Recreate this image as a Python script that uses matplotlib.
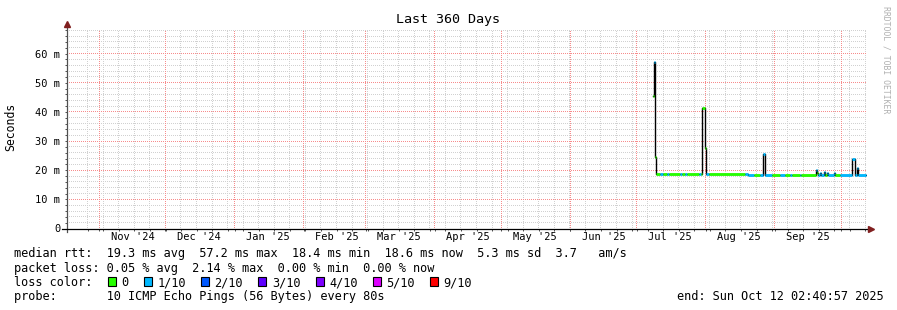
import matplotlib
matplotlib.use('Agg')
import numpy as np
import matplotlib.pyplot as plt
import matplotlib.dates as mdates
from matplotlib.patches import Rectangle

# --- data (SmokePing, last 360 days) ---
sample_times = [
    '2025-07-08 05:00', '2025-07-08 15:30', '2025-07-09 02:30', '2025-07-09 13:00',
    '2025-07-11 08:30', '2025-07-12 17:00', '2025-07-14 12:00', '2025-07-15 09:30',
    '2025-07-20 08:30', '2025-07-21 06:00', '2025-07-22 14:30', '2025-07-23 12:00',
    '2025-07-28 21:30', '2025-07-29 19:00', '2025-07-30 06:00', '2025-07-31 14:30',
    '2025-08-01 01:00', '2025-08-02 09:30', '2025-08-18 14:30', '2025-08-19 23:00',
    '2025-08-22 15:30', '2025-08-25 08:30', '2025-08-26 17:00', '2025-08-27 14:30',
    '2025-08-30 18:00', '2025-09-03 08:30', '2025-09-05 14:30', '2025-09-07 20:30',
    '2025-09-08 18:00', '2025-09-12 06:00', '2025-09-12 17:00', '2025-09-19 11:00',
    '2025-09-19 21:30', '2025-09-20 08:30', '2025-09-21 06:00', '2025-09-21 17:00',
    '2025-09-23 01:00', '2025-09-23 12:00', '2025-09-24 09:30', '2025-09-24 20:30',
    '2025-09-27 13:00', '2025-09-28 00:00', '2025-09-30 06:00', '2025-10-05 15:30',
    '2025-10-07 00:00', '2025-10-07 21:30', '2025-10-08 08:30',
]
median_ms = [
    45.3, 57.2, 24.6, 18.6,
    18.6, 18.6, 18.6, 18.6,
    18.6, 18.6, 18.6, 18.6,
    18.6, 18.6, 41.5, 27.7,
    18.6, 18.6, 18.6, 18.3,
    18.5, 18.5, 25.5, 18.4,
    18.3, 18.4, 18.5, 18.5,
    18.5, 18.5, 18.5, 19.9,
    19.2, 18.3, 19.0, 18.3,
    19.5, 18.3, 19.0, 18.3,
    19.0, 18.5, 18.5, 23.8,
    18.4, 20.8, 18.5,
]
loss_count = [
    0, 1, 0, 0,
    1, 0, 1, 0,
    1, 0, 1, 0,
    1, 0, 0, 0,
    1, 0, 1, 1,
    0, 1, 1, 1,
    0, 1, 0, 1,
    0, 1, 0, 1,
    0, 1, 1, 1,
    1, 0, 1, 1,
    1, 0, 1, 1,
    1, 1, 1,
]
data_end = '2025-10-12 00:00'

loss_labels = ['0', '1/10', '2/10', '3/10', '4/10', '5/10', '9/10']
loss_colors = ['#26ff00', '#00b8ff', '#0059ff', '#5e00ff', '#7e00ff', '#dd00ff', '#ff0000']

month_labels = ["Nov '24", "Dec '24", "Jan '25", "Feb '25", "Mar '25", "Apr '25",
                "May '25", "Jun '25", "Jul '25", "Aug '25", "Sep '25"]

legend_lines = [
    'median rtt:  19.3 ms avg  57.2 ms max  18.4 ms min  18.6 ms now  5.3 ms sd  3.7   am/s',
    'packet loss: 0.05 % avg  2.14 % max  0.00 % min  0.00 % now',
]
probe_line = 'probe:       10 ICMP Echo Pings (56 Bytes) every 80s'
end_line = 'end: Sun Oct 12 02:40:57 2025'

# --- layout (pixels of a 897x310 canvas) ---
W, H = 897, 310
plt.rcParams['font.family'] = 'DejaVu Sans Mono'

def fx(x):
    return x / W

def fy(y):
    return 1 - y / H

fig = plt.figure(figsize=(W / 100, H / 100), dpi=100)
ax = fig.add_axes([fx(66.5), fy(228.5), 800 / W, 200 / H])
ax.patch.set_visible(False)

t_start = mdates.datestr2num('2024-10-17 08:00')
t_stop = mdates.datestr2num('2025-10-12 08:00')
ax.set_xlim(t_start, t_stop)
ax.set_ylim(0, 68.6)

# grid: rrdtool style 1px dotted lines, put straight onto the pixel grid
minor_rgb = (0.82, 0.82, 0.82)
major_rgb = (0.97, 0.55, 0.55)
grid_img = np.zeros((H, W, 4))
x_lo, y_lo, x_hi, y_hi = ax.bbox.extents
col_lo, col_hi = int(np.ceil(x_lo)), int(np.floor(x_hi))
row_lo, row_hi = int(np.ceil(H - y_hi)), int(np.floor(H - y_lo))

def hgrid(yval, rgb):
    r = int(np.floor(H - ax.transData.transform((t_start, yval))[1]))
    for c in range(col_lo, col_hi, 2):
        grid_img[r, c] = rgb + (1.0,)

def vgrid(xval, rgb):
    c = int(np.floor(ax.transData.transform((xval, 0))[0]))
    for r in range(row_hi - 1, row_lo, -2):
        grid_img[r, c] = rgb + (1.0,)

weeks = []
w = mdates.datestr2num('2024-10-26 20:00')
while w < t_stop:
    weeks.append(w)
    w += 7
months = [mdates.datestr2num('%d-%02d-01' % (2024 + (m - 1) // 12, (m - 1) % 12 + 1))
          for m in range(11, 11 + 12)]
months = [m for m in months if t_start < m < t_stop]

for v in range(2, 69, 2):
    if v % 10:
        hgrid(v, minor_rgb)
for w in weeks:
    vgrid(w, minor_rgb)
for v in range(10, 69, 10):
    hgrid(v, major_rgb)
for m in months:
    vgrid(m, major_rgb)
fig.figimage(grid_img, xo=0, yo=0, origin='upper', zorder=-1)

# median rtt line, coloured by loss
t = [mdates.datestr2num(s) for s in sample_times]
edges = t + [mdates.datestr2num(data_end)]
ax.plot(edges, median_ms + [median_ms[-1]], drawstyle='steps-post',
        color='#000000', lw=1.0, zorder=2)
ax.hlines(median_ms, edges[:-1], edges[1:],
          colors=[loss_colors[c] for c in loss_count], lw=2.0, zorder=3,
          capstyle='butt')

# ticks and labels
ax.set_yticks(range(0, 61, 10))
ax.set_yticklabels(['0'] + ['%d m' % v for v in range(10, 61, 10)])
ax.set_yticks([v for v in range(2, 69, 2) if v % 10], minor=True)
mids = [mdates.datestr2num('%d-%02d-16' % (2024 + (m - 1) // 12, (m - 1) % 12 + 1))
        for m in range(11, 11 + 11)]
ax.set_xticks(mids)
ax.set_xticklabels(month_labels)
ax.set_xticks(weeks + months, minor=True)
ax.tick_params(axis='x', which='major', length=0, pad=2.5, labelsize=7.5)
ax.tick_params(axis='x', which='minor', length=1.5, color='#555555', width=0.72)
ax.tick_params(axis='y', which='both', length=1.5, color='#555555', width=0.72,
               pad=3.0, labelsize=7.5)

for s in ax.spines.values():
    s.set_visible(False)
ax.plot([0, 0], [-3 / 200, 1.02], transform=ax.transAxes, color='#505050',
        lw=0.9, clip_on=False, zorder=4)
ax.plot([-5 / 800, 1.004], [0, 0], transform=ax.transAxes, color='#000000',
        lw=0.9, clip_on=False, zorder=4)
ax.plot([0], [1.022], marker='^', ms=4.5, color='#801f1f', transform=ax.transAxes,
        clip_on=False, zorder=5)
ax.plot([1.0055], [0], marker='>', ms=4.5, color='#801f1f', transform=ax.transAxes,
        clip_on=False, zorder=5)

# title, unit label, watermark
fig.text(fx(448), fy(23.5), 'Last 360 Days', ha='center', va='baseline', fontsize=9.6)
fig.text(fx(11), fy(127), 'Seconds', rotation=90, ha='center', va='center', fontsize=8.3)
fig.text(fx(886), fy(60), 'RRDTOOL / TOBI OETIKER', rotation=-90, ha='center',
         va='center', fontsize=5.9, color='#b0b0b0')

# legend block
char_w = 7.15
x0 = 14.4
fs = 8.55
fig.text(fx(x0), fy(257.3), legend_lines[0], ha='left', va='baseline', fontsize=fs)
fig.text(fx(x0), fy(271.7), legend_lines[1], ha='left', va='baseline', fontsize=fs)
fig.text(fx(x0), fy(286.0), 'loss color:', ha='left', va='baseline', fontsize=fs)
col = 13
for lab, c in zip(loss_labels, loss_colors):
    bx = x0 + col * char_w + 0.8
    fig.patches.append(Rectangle((fx(bx), fy(285.5)), 8.0 / W, 8.5 / H,
                                 transform=fig.transFigure, facecolor=c,
                                 edgecolor='#000000', lw=0.8))
    fig.text(fx(x0 + (col + 2) * char_w), fy(286.0), lab, ha='left',
             va='baseline', fontsize=fs)
    col += 2 + len(lab) + 2
fig.text(fx(x0), fy(300.2), probe_line, ha='left', va='baseline', fontsize=fs)
fig.text(fx(676.7), fy(300.2), end_line, ha='left', va='baseline', fontsize=fs)

fig.savefig('out.png', dpi=100, facecolor='white')
